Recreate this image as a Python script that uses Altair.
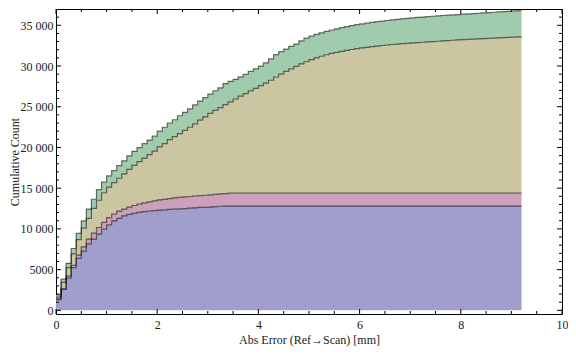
import altair as alt
import pandas as pd

# ---- data (stacked cumulative counts, bin width 0.1 mm) ----
bin_width = 0.1
series_names = ["blue", "pink", "tan", "green"]
series_colors = ["#a09fcc", "#cc9fbb", "#cbc6a1", "#a0cbac"]

blue_top = [
    1300, 2580, 3950, 5250, 6380, 7260, 8150, 8750, 9360, 9960,
    10500, 10980, 11300, 11590, 11780, 11900, 12020, 12110, 12200, 12250,
    12310, 12340, 12390, 12420, 12470, 12500, 12550, 12580, 12630, 12650,
    12680, 12740, 12780, 12800, 12800, 12800, 12800, 12800, 12800, 12800,
    12800, 12800, 12800, 12800, 12800, 12800, 12800, 12800, 12800, 12800,
    12800, 12800, 12800, 12800, 12800, 12800, 12800, 12800, 12800, 12800,
    12800, 12800, 12800, 12800, 12800, 12800, 12800, 12800, 12800, 12800,
    12800, 12800, 12800, 12800, 12800, 12800, 12800, 12800, 12800, 12800,
    12800, 12800, 12800, 12800, 12800, 12800, 12800, 12800, 12800, 12800,
    12800, 12800,
]
pink_top = [
    1400, 2630, 4200, 5530, 6780, 7790, 8750, 9480, 10170, 10810,
    11380, 11830, 12190, 12430, 12680, 12870, 13040, 13200, 13320, 13440,
    13560, 13620, 13720, 13800, 13860, 13930, 13980, 14040, 14080, 14130,
    14180, 14240, 14290, 14330, 14380, 14410, 14410, 14410, 14410, 14410,
    14410, 14410, 14410, 14410, 14410, 14410, 14410, 14410, 14410, 14410,
    14410, 14410, 14410, 14410, 14410, 14410, 14410, 14410, 14410, 14410,
    14410, 14410, 14410, 14410, 14410, 14410, 14410, 14410, 14410, 14410,
    14410, 14410, 14410, 14410, 14410, 14410, 14410, 14410, 14410, 14410,
    14410, 14410, 14410, 14410, 14410, 14410, 14410, 14410, 14410, 14410,
    14410, 14410,
]
tan_top = [
    1610, 3430, 5250, 6940, 8680, 10090, 11300, 12510, 13520, 14440,
    15130, 15680, 16220, 16750, 17300, 17800, 18250, 18700, 19120, 19560,
    20070, 20480, 20950, 21320, 21700, 22100, 22480, 22900, 23350, 23750,
    24180, 24560, 24900, 25250, 25600, 25950, 26300, 26620, 26950, 27250,
    27580, 27900, 28250, 28650, 29000, 29330, 29650, 29950, 30250, 30520,
    30780, 31000, 31200, 31380, 31540, 31680, 31800, 31920, 32030, 32130,
    32220, 32300, 32380, 32450, 32520, 32580, 32640, 32690, 32740, 32790,
    32840, 32880, 32920, 32960, 33000, 33040, 33080, 33120, 33160, 33200,
    33240, 33270, 33300, 33330, 33360, 33390, 33420, 33450, 33480, 33510,
    33540, 33570,
]
green_top = [
    1940, 3830, 5770, 7590, 9440, 10980, 12430, 13640, 14810, 15740,
    16500, 17150, 17760, 18360, 18970, 19530, 19980, 20460, 20910, 21390,
    22000, 22480, 23000, 23400, 23890, 24300, 24730, 25220, 25700, 26110,
    26550, 26960, 27320, 27840, 28120, 28370, 28660, 28970, 29340, 29660,
    29990, 30390, 30870, 31390, 31760, 32080, 32410, 32690, 33090, 33420,
    33660, 33880, 34080, 34260, 34420, 34570, 34710, 34840, 34960, 35070,
    35170, 35260, 35350, 35440, 35520, 35590, 35660, 35730, 35790, 35850,
    35910, 35960, 36010, 36060, 36110, 36160, 36200, 36240, 36280, 36320,
    36360, 36400, 36440, 36480, 36520, 36560, 36600, 36640, 36680, 36720,
    36760, 36800,
]

x_major = [0, 2, 4, 6, 8, 10]
x_minor = [0.5, 1, 1.5, 2.5, 3, 3.5, 4.5, 5, 5.5, 6.5, 7, 7.5, 8.5, 9, 9.5]
y_major = [0, 5000, 10000, 15000, 20000, 25000, 30000, 35000]
y_minor = [1000, 2000, 3000, 4000, 6000, 7000, 8000, 9000, 11000, 12000, 13000,
           14000, 16000, 17000, 18000, 19000, 21000, 22000, 23000, 24000, 26000,
           27000, 28000, 29000, 31000, 32000, 33000, 34000, 36000]

# ---- build long table ----
tops = [blue_top, pink_top, tan_top, green_top]
rows = []
n = len(blue_top)
for s, name in enumerate(series_names):
    hi = tops[s] + [tops[s][-1]]
    lo = (tops[s - 1] + [tops[s - 1][-1]]) if s > 0 else [0] * (n + 1)
    for i in range(n + 1):
        rows.append({"x": round(i * bin_width, 4), "hi": hi[i], "lo": lo[i], "series": name})
df = pd.DataFrame(rows)

W, H = 506, 305
FONT = "Liberation Serif"
xscale = alt.Scale(domain=[0, 10], nice=False, zero=False)
yscale = alt.Scale(domain=[-450, 37000], nice=False, zero=False)

x_axis = alt.Axis(values=x_major, ticks=False, domain=False, grid=False,
                  labelFont=FONT, labelFontSize=12, labelColor="#1a1a1a",
                  labelPadding=5, labelBaseline="top", labelFlush=False,
                  titleFont=FONT,
                  titleFontSize=12, titleFontWeight="normal", titleColor="#1a1a1a",
                  titleY=29, titleBaseline="alphabetic")
y_axis = alt.Axis(values=y_major, ticks=False, domain=False, grid=False,
                  labelFont=FONT, labelFontSize=12, labelColor="#1a1a1a",
                  labelPadding=3, labelFlush=False,
                  labelExpr="datum.value >= 10000 ? replace(format(datum.value, ','), ',', ' ') : format(datum.value, 'd')",
                  titleFont=FONT, titleFontSize=12,
                  titleFontWeight="normal", titleColor="#1a1a1a",
                  titleX=-42, titleY=H / 2, titleBaseline="middle")

base = alt.Chart(df)
areas = base.mark_area(interpolate="step-after").encode(
    x=alt.X("x:Q", scale=xscale, axis=x_axis, title="Abs Error (Ref\u2192Scan) [mm]"),
    y=alt.Y("hi:Q", scale=yscale, axis=y_axis, stack=None, title="Cumulative Count"),
    y2="lo:Q",
    color=alt.Color("series:N", scale=alt.Scale(domain=series_names, range=series_colors), legend=None),
)
lines = base.mark_line(interpolate="step-after", color="black", strokeOpacity=0.55,
                       strokeWidth=1.2).encode(
    x=alt.X("x:Q", scale=xscale),
    y=alt.Y("hi:Q", scale=yscale, stack=None),
    detail="series:N",
)


def xticks(vals, length, top):
    c = alt.Chart(pd.DataFrame({"x": vals})).mark_rule(color="black", strokeWidth=1)
    if top:
        return c.encode(x=alt.X("x:Q", scale=xscale), y=alt.value(0), y2=alt.value(length))
    return c.encode(x=alt.X("x:Q", scale=xscale), y=alt.value(H), y2=alt.value(H - length))


def yticks(vals, length, right):
    c = alt.Chart(pd.DataFrame({"hi": vals})).mark_rule(color="black", strokeWidth=1)
    if right:
        return c.encode(y=alt.Y("hi:Q", scale=yscale), x=alt.value(W), x2=alt.value(W - length))
    return c.encode(y=alt.Y("hi:Q", scale=yscale), x=alt.value(0), x2=alt.value(length))


ticks = [
    xticks(x_major, 5, False), xticks(x_minor, 3, False),
    xticks(x_major, 5, True), xticks(x_minor, 3, True),
    yticks(y_major, 5, False), yticks(y_minor, 3, False),
    yticks(y_major, 5, True), yticks(y_minor, 3, True),
]

chart = alt.layer(areas, lines, *ticks).properties(
    width=W, height=H,
    padding={"left": 48, "top": 1, "right": 6, "bottom": 33},
    autosize=alt.AutoSizeParams(type="none"),
).configure_view(stroke="black", strokeWidth=1)

chart.save("out.html", embed_options={"renderer": "svg", "actions": False})
